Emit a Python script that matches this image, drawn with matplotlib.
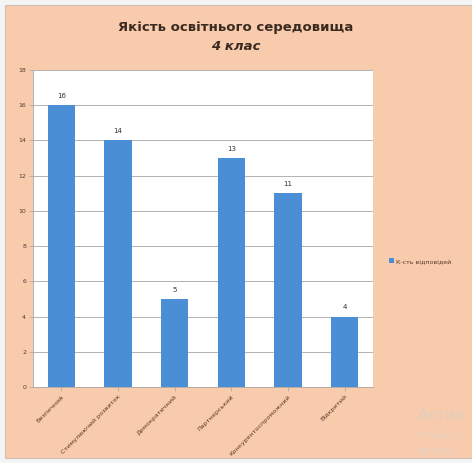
import matplotlib.pyplot as plt
from matplotlib.patches import Rectangle

categories = ['Безпечний', 'Стимулюючий розвиток', 'Демократичний',
              'Партнерський', 'Конкурентоспроможний', 'Відкритий']
answers = [16, 14, 5, 13, 11, 4]
y_ticks = [0, 2, 4, 6, 8, 10, 12, 14, 16, 18]
series_name = 'К-сть відповідей'

peach = '#F8CBAD'
bar_color = '#4A8FD6'
text_color = '#5A3A28'

fig = plt.figure(figsize=(4.72, 4.63), dpi=100)
fig.patch.set_facecolor('#F4F4F4')
# peach chart area with a thin grey frame, drawn behind the axes
fig.patches.append(Rectangle((5 / 472, 5 / 463), 1.0, 1 - 10 / 463,
                             transform=fig.transFigure, facecolor=peach,
                             edgecolor='#C8C0B8', linewidth=0.8, zorder=-5))

ax = fig.add_axes([33 / 472, 1 - 387 / 463, 340 / 472, 317 / 463])
ax.set_facecolor('white')
x = range(len(categories))
bars = ax.bar(x, answers, width=0.48, color=bar_color, label=series_name, zorder=3)
for rect, v in zip(bars, answers):
    ax.text(rect.get_x() + rect.get_width() / 2, v + 0.35, str(v),
            ha='center', va='bottom', fontsize=5, color='#333333')

ax.set_ylim(0, 18)
ax.set_xlim(-0.5, len(categories) - 0.5)
ax.set_yticks(y_ticks)
ax.set_yticklabels([str(t) for t in y_ticks], fontsize=4.5, color=text_color)
ax.set_xticks(list(x))
ax.set_xticklabels(categories, rotation=45, ha='right', rotation_mode='anchor',
                   fontsize=4.6, color=text_color)
ax.yaxis.grid(True, color='#A6A6A6', linewidth=0.6, zorder=0)
ax.set_axisbelow(True)
ax.tick_params(axis='both', length=3, width=0.5, color='#A6A6A6', pad=2)
for side in ['top', 'right']:
    ax.spines[side].set_visible(False)
for side in ['left', 'bottom']:
    ax.spines[side].set_color('#A6A6A6')
    ax.spines[side].set_linewidth(0.6)

fig.text(0.5, 1 - 27 / 463, 'Якість освітнього середовища', ha='center', va='center',
         fontsize=9.5, fontweight='bold', color='#3A2A20')
fig.text(0.5, 1 - 46 / 463, '4 клас', ha='center', va='center',
         fontsize=9.5, fontweight='bold', style='italic', color='#3A2A20')

fig.legend(handles=[bars], labels=[series_name], loc='center left',
           bbox_to_anchor=(383 / 472, 1 - 261 / 463), frameon=False,
           fontsize=4.5, handlelength=0.8, handleheight=0.8, handletextpad=0.4,
           labelcolor=text_color)

# faint OS watermark in the lower right corner (only the visible part)
fig.text(418 / 472, 1 - 415 / 463, 'Актив', fontsize=11,
         color='#E4CCBD', va='center')
fig.text(418 / 472, 1 - 436 / 463, 'Чтобы а', fontsize=7,
         color='#E6D0C2', va='center')
fig.text(418 / 472, 1 - 451 / 463, 'раздел', fontsize=7,
         color='#E6D0C2', va='center')

fig.savefig('out.png', dpi=100, facecolor=fig.get_facecolor())
plt.close(fig)
